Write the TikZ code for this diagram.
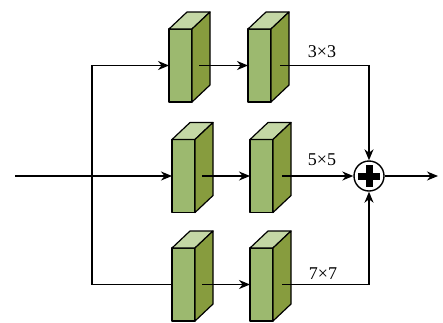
\documentclass[tikz,border=0pt]{standalone}
\usepackage{fontspec}
\setmainfont{Liberation Serif}
\usetikzlibrary{arrows.meta,calc}
\definecolor{frontc}{HTML}{9CB96F}
\definecolor{sidec}{HTML}{879C3E}
\definecolor{topc}{HTML}{C4D7A5}
\tikzset{
  front/.style={rectangle,draw,fill=frontc,line width=1.2pt,inner sep=0pt,outer sep=0pt,minimum width=23pt,minimum height=73pt,line join=round},
  face/.style={draw,line width=1.2pt,line join=round},
  conn/.style={line width=1.2pt},
  arr/.style={conn,-{Stealth[length=11pt,width=9pt,inset=3.5pt]}},
  lab/.style={inner sep=0pt,font=\fontsize{18}{20}\selectfont}
}
\newcommand\mycuboid[3]{%
  \node[front,anchor=north west] (#1) at (#2,#3) {};
  \filldraw[face,fill=topc] (#1.north west) -- ++(18,-17) -- ++(23,0) -- (#1.north east) -- cycle;
  \filldraw[face,fill=sidec] (#1.north east) -- ++(18,-17) -- ++(0,73) -- (#1.south east) -- cycle;
}
\begin{document}
\begin{tikzpicture}[x=1pt,y=-1pt]
\useasboundingbox (0,0) rectangle (443,322);
% boxes
\mycuboid{b11}{169}{29}
\mycuboid{b12}{248}{29}
\mycuboid{b21}{172}{139.5}
\mycuboid{b22}{250}{139.5}
\mycuboid{b31}{172}{248}
\mycuboid{b32}{250}{248}
% sum node
\node[circle,draw,line width=1.4pt,minimum size=30pt,inner sep=0pt] (sum) at (369,176) {};
\fill (sum.center) ++(-11,-3.5) rectangle ++(22,7);
\fill (sum.center) ++(-3.5,-11) rectangle ++(7,22);
% input
\coordinate (in) at (15,176);
\coordinate (j) at (92,176);
\coordinate (out) at (438,176);
\draw[conn] (in) -- (j);
\draw[arr] (j) -- (b21.west);
\draw[arr] (j) |- (b11.west);
\draw[conn] (j) |- (b31.west);
% box to box
\draw[arr] ([xshift=7pt]b11.east) -- (b12.west);
\draw[arr] ([xshift=7pt]b21.east) -- (b22.west);
\draw[arr] ([xshift=7pt]b31.east) -- (b32.west);
% to sum
\draw[arr] ([xshift=9pt]b12.east) -| (sum.north);
\draw[arr] ([xshift=9pt]b22.east) -- (sum.west);
\draw[arr] ([xshift=9pt]b32.east) -| (sum.south);
\draw[arr] (sum.east) -- (out);
% labels
\node[lab] (l1) at (322,52) {3×3};
\node[lab] (l2) at (322,160) {5×5};
\node[lab] (l3) at (323,274) {7×7};
\end{tikzpicture}
\end{document}
